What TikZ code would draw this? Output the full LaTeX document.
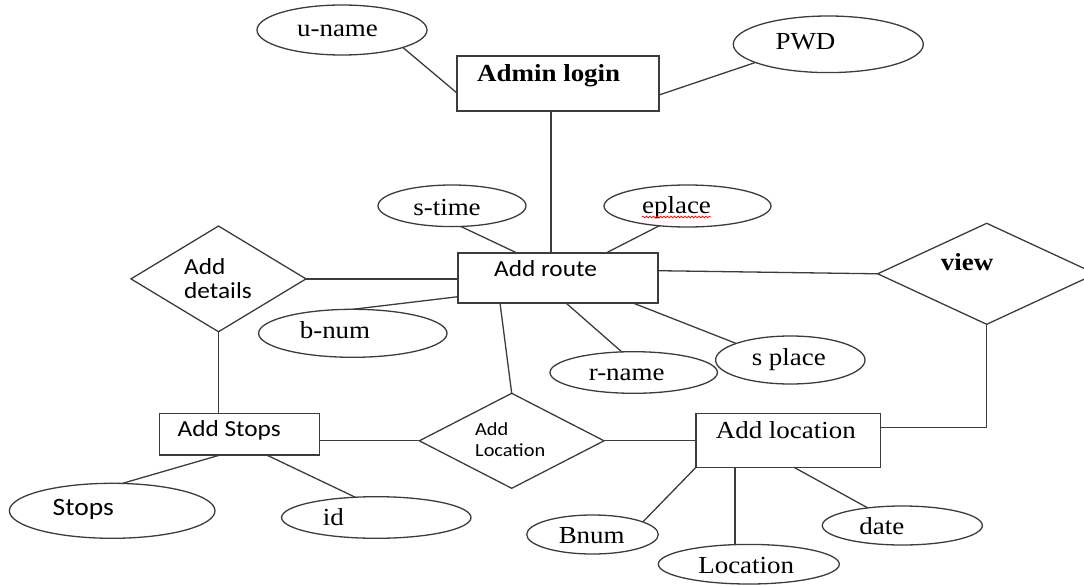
\documentclass[tikz,border=0pt]{standalone}
\usepackage{fontspec}
\setmainfont{Liberation Serif}[FakeStretch=1.1]
\newfontfamily\calib{Carlito}[FakeStretch=1.1]
\usetikzlibrary{shapes.geometric,decorations.pathmorphing}
\definecolor{ln}{RGB}{60,60,60}
\begin{document}
\begin{tikzpicture}[x=1pt,y=-1pt,
  shp/.style={draw=ln,line width=1.3pt,inner sep=0pt,outer sep=0pt},
  ent/.style={shp,rectangle},
  att/.style={shp,ellipse},
  rel/.style={shp,diamond},
  con/.style={draw=ln,line width=1.3pt},
  ser/.style={font=\fontsize{24.5pt}{28pt}\selectfont,anchor=base,inner sep=0pt},
  serb/.style={font=\fontsize{24.5pt}{28pt}\selectfont\bfseries,anchor=base,inner sep=0pt},
  san/.style={font=\calib\fontsize{23pt}{27pt}\selectfont,anchor=base,inner sep=0pt},
  sanl/.style={font=\calib\fontsize{23pt}{27pt}\selectfont,anchor=base west,inner sep=0pt},
  sans/.style={font=\calib\fontsize{18.5pt}{22pt}\selectfont,anchor=base west,inner sep=0pt}]
\useasboundingbox (0,0) rectangle (1084,586);

% entities
\node[ent,minimum width=202pt,minimum height=55pt] (admin) at (558,83.5) {};
\node[ent,minimum width=200pt,minimum height=50pt] (route) at (558,278) {};
\node[ent,minimum width=160pt,minimum height=41.7pt] (stops) at (239.3,434.2) {};
\node[ent,minimum width=184.7pt,minimum height=54pt] (addloc) at (788.3,440.3) {};

% relationships
\node[rel,minimum width=175pt,minimum height=105.7pt] (details) at (218.5,278.9) {};
\node[rel,minimum width=218pt,minimum height=101pt] (view) at (986.7,273.8) {};
\node[rel,minimum width=184.7pt,minimum height=95pt] (aloc) at (511.7,440.8) {};

% attributes
\node[att,minimum width=170pt,minimum height=50pt] (uname) at (342,30) {};
\node[att,minimum width=190pt,minimum height=56.6pt] (pwd) at (828.3,44.3) {};
\node[att,minimum width=148pt,minimum height=41.6pt] (stime) at (452,205.8) {};
\node[att,minimum width=167pt,minimum height=42pt] (eplace) at (687.5,206) {};
\node[att,minimum width=188.4pt,minimum height=48pt] (bnum) at (352.8,333.3) {};
\node[att,minimum width=167.4pt,minimum height=41.6pt] (rname) at (633.7,372.5) {};
\node[att,minimum width=149.4pt,minimum height=48pt] (splace) at (790.3,360) {};
\node[att,minimum width=205.6pt,minimum height=55pt] (stopsA) at (112.2,510.8) {};
\node[att,minimum width=189.4pt,minimum height=41.6pt] (id) at (376.3,517.5) {};
\node[att,minimum width=131.6pt,minimum height=39pt] (bnumA) at (592.5,534.5) {};
\node[att,minimum width=181pt,minimum height=39.6pt] (location) at (748.8,564.2) {};
\node[att,minimum width=160pt,minimum height=39pt] (date) at (902.3,525.5) {};

% texts
\node[serb] (adminT) at (548.7,81.7) {Admin login};
\node[san] (routeT) at (545.5,276.7) {Add route};
\node[san] (stopsT) at (229.2,436.7) {Add Stops};
\node[ser] (addlocT) at (785.8,438.3) {Add location};
\node[sanl] (detT1) at (184,274) {Add};
\node[sanl] (detT2) at (184,298.3) {details};
\node[serb] (viewT) at (967,270.7) {view};
\node[sans] (alocT1) at (475,435) {Add};
\node[sans] (alocT2) at (475,456) {Location};
\node[ser] (unameT) at (337.5,37) {u-name};
\node[ser] (pwdT) at (805.5,49.3) {PWD};
\node[ser] (stimeT) at (447,215) {s-time};
\node[ser] (eplaceT) at (676.5,213.5) {eplace};
\node[ser] (bnumT) at (335,338.3) {b-num};
\node[ser] (rnameT) at (626.7,380) {r-name};
\node[ser] (splaceT) at (788.8,365) {s place};
\node[san,font=\calib\fontsize{25pt}{29pt}\selectfont] (stopsAT) at (83.3,515) {Stops};
\node[ser] (idT) at (333.3,525) {id};
\node[ser] (bnumAT) at (591.7,543.3) {Bnum};
\node[ser] (locationT) at (746.2,573.3) {Location};
\node[ser] (dateT) at (881.8,534.3) {date};

% spell-check squiggle under eplace
\draw[red,line width=0.7pt,decorate,decoration={snake,amplitude=0.8pt,segment length=3.5pt}]
  ([yshift=-3.5pt]eplaceT.base west) -- ([yshift=-3.5pt]eplaceT.base east);

% connectors
\draw[con] (uname.-16) -- ([yshift=-9.5pt]admin.west);
\draw[con] ([yshift=-11.5pt]admin.east) -- (pwd.194);
\draw[con] ([xshift=-7pt]admin.south) -- ([xshift=-7pt]route.north);
\draw[con] (stime.-67) -- ([xshift=59pt]route.north west);
\draw[con] (eplace.-145) -- ([xshift=148pt]route.north west);
\draw[con] (details.east) -- (details.east -| route.west);
\draw[con] ([yshift=-18.7pt]route.west) -- (bnum.north);
\draw[con] ([yshift=7.3pt]route.east) -- (view.west);
\draw[con] (view.south) |- ([yshift=13pt]addloc.east);
\draw[con] ([xshift=42pt]route.south west) -- (aloc.north);
\draw[con] ([xshift=108pt]route.south west) -- (rname.120);
\draw[con] ([xshift=175pt]route.south west) -- (splace.163);
\draw[con] (details.south) -- (details.south |- stops.north);
\draw[con] (stops.east |- aloc.west) -- (aloc.west);
\draw[con] (aloc.east) -- (aloc.east -| addloc.west);
\draw[con] ([xshift=-19.3pt]stops.south) -- (stopsA.70);
\draw[con] ([xshift=27.4pt]stops.south) -- (id.136);
\draw[con] (addloc.south west) -- (bnumA.14);
\draw[con] ([xshift=39pt]addloc.south west) -- ([xshift=39pt]addloc.south west |- location.north);
\draw[con] ([xshift=98pt]addloc.south west) -- (date.153);
\end{tikzpicture}
\end{document}
